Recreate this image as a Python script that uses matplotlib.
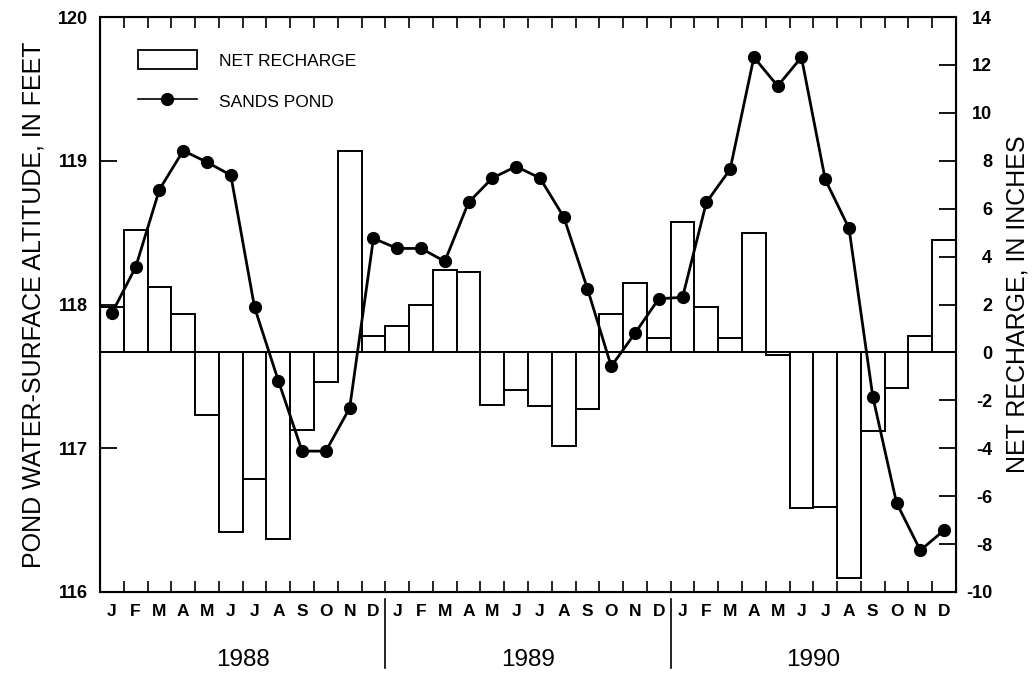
import numpy as np
import matplotlib
matplotlib.use("Agg")
import matplotlib.pyplot as plt
from matplotlib.patches import Patch
from matplotlib.lines import Line2D
import matplotlib.transforms as mtransforms

plt.rcParams["font.family"] = ["Liberation Sans", "DejaVu Sans"]
plt.rcParams["axes.unicode_minus"] = False

months = list("JFMAMJJASOND")
years = ["1988", "1989", "1990"]

# monthly pond water-surface altitude, feet
pond_altitude = [
    117.94, 118.26, 118.80, 119.07, 118.99, 118.90, 117.98, 117.47, 116.98, 116.98, 117.28, 118.46,
    118.39, 118.39, 118.30, 118.71, 118.88, 118.96, 118.88, 118.61, 118.11, 117.57, 117.80, 118.04,
    118.05, 118.71, 118.94, 119.72, 119.52, 119.72, 118.87, 118.53, 117.36, 116.62, 116.29, 116.43,
]

# monthly net recharge, inches
net_recharge = [
    1.9, 5.1, 2.75, 1.6, -2.6, -7.5, -5.3, -7.8, -3.25, -1.25, 8.4, 0.7,
    1.1, 2.0, 3.45, 3.35, -2.2, -1.55, -2.25, -3.9, -2.35, 1.6, 2.9, 0.6,
    5.45, 1.9, 0.6, 5.0, -0.1, -6.5, -6.45, -9.4, -3.3, -1.5, 0.7, 4.7,
]

n = len(pond_altitude)
x = np.arange(n) + 0.5

fig = plt.figure(figsize=(10.35, 6.75), dpi=100)
ax = fig.add_axes([100 / 1035, 83 / 675, 856 / 1035, 575 / 675])
ax2 = ax.twinx()

# bars on the right-hand axis, drawn beneath the pond line
ax2.bar(x, net_recharge, width=1.0, color="white", edgecolor="black", linewidth=1.4)
ax2.axhline(0, color="black", linewidth=1.3)
ax2.set_ylim(-10, 14)
ax2.set_yticks(np.arange(-10, 15, 2))

ax.plot(x, pond_altitude, color="black", linewidth=2, marker="o", markersize=8.5)
ax.set_ylim(116, 120)
ax.set_yticks([116, 117, 118, 119, 120])
ax.set_xlim(0, n)
ax.set_zorder(ax2.get_zorder() + 1)
ax.patch.set_visible(False)

# month ticks at boundaries, letters centred in each month
ax.set_xticks(np.arange(0, n + 1))
ax.set_xticklabels([])
ax.set_xticks(x, minor=True)
ax.set_xticklabels(months * len(years), minor=True, fontsize=12.5, fontweight="bold")
ax.tick_params(axis="x", which="major", direction="in", top=True, bottom=True, length=8, width=1.2)
ax.tick_params(axis="x", which="minor", length=0, pad=9)

ax.tick_params(axis="y", direction="in", length=12, width=1.3, labelsize=13, pad=8.5)
ax2.tick_params(axis="y", direction="in", length=12, width=1.3, labelsize=13, pad=26)
for lab in ax.get_yticklabels():
    lab.set_fontweight("bold")
for lab in ax2.get_yticklabels():
    lab.set_fontweight("bold")
    lab.set_horizontalalignment("right")

for s in ax.spines.values():
    s.set_linewidth(1.5)

ax.set_ylabel("POND WATER-SURFACE ALTITUDE, IN FEET", fontsize=18, labelpad=9)
ax2.set_ylabel("NET RECHARGE, IN INCHES", fontsize=18, labelpad=10)

# year labels and separators under the month letters
trans = mtransforms.blended_transform_factory(ax.transData, ax.transAxes)
for i, yr in enumerate(years):
    ax.text(12 * i + 6, -0.118, yr, transform=trans, ha="center", va="center", fontsize=17.5)
for b in (12, 24):
    ax.plot([b, b], [-0.012, -0.132], transform=trans, color="black", linewidth=1.2, clip_on=False)

handles = [
    Patch(facecolor="white", edgecolor="black", linewidth=1.3),
    Line2D([], [], color="black", linewidth=1.2, marker="o", markersize=8.5),
]
ax.legend(handles, ["NET RECHARGE", "SANDS POND"], loc="upper left",
          bbox_to_anchor=(0.044, 0.942), frameon=False, fontsize=12.5,
          borderpad=0, borderaxespad=0,
          handlelength=3.4, handleheight=1.3, handletextpad=1.3, labelspacing=1.3)

fig.savefig("out.png", dpi=100)
